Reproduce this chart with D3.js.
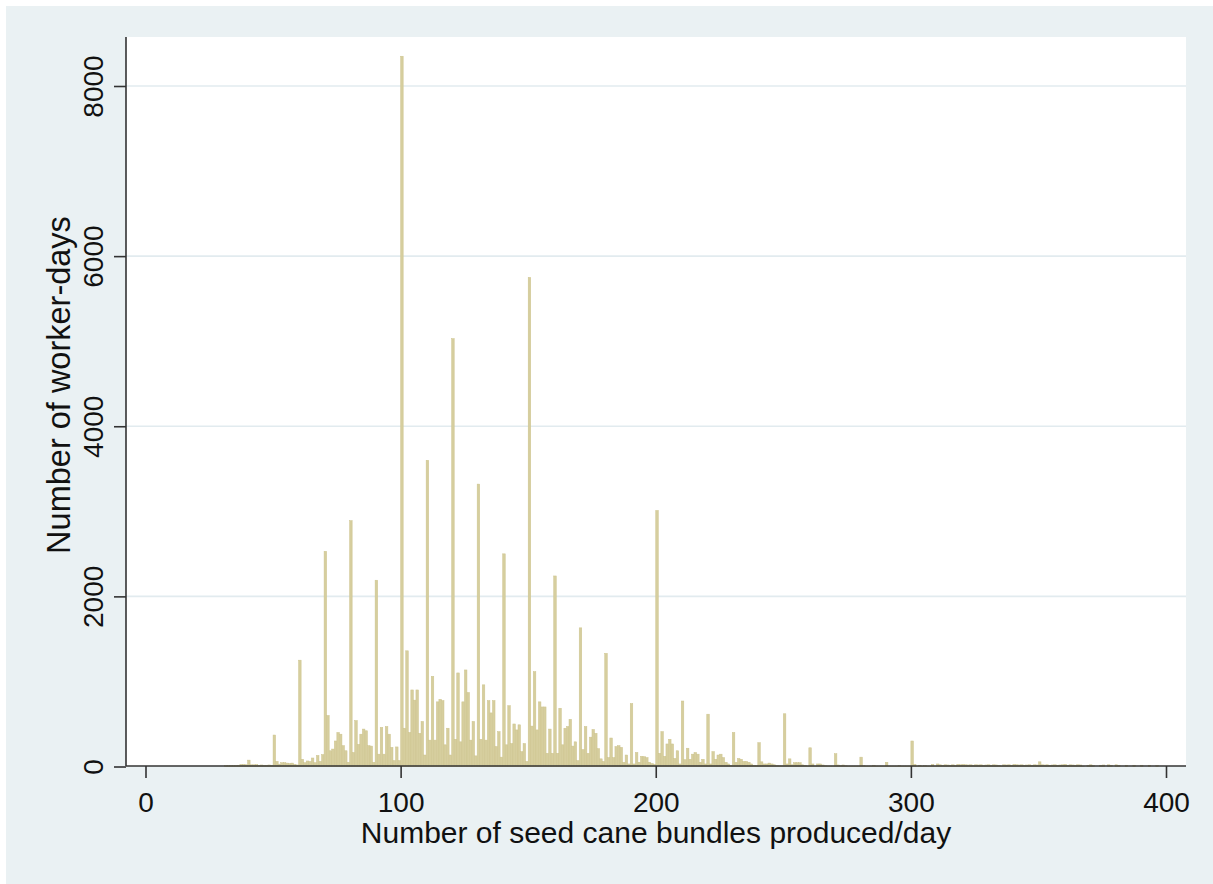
<!DOCTYPE html>
<html>
<head>
<meta charset="utf-8">
<script src="https://cdn.jsdelivr.net/npm/d3@7"></script>
<style>
  html, body { margin: 0; padding: 0; background: #ffffff; }
  svg { display: block; }
  text { font-family: "Liberation Sans", Arial, sans-serif; fill: #111; }
</style>
</head>
<body>
<svg id="chart" width="1213" height="884"></svg>
<script>
// Number of worker-days at each daily output (seed cane bundles), from 30 to 400
const firstBundle = 30;
const workerDays = [
  // 30-39
  0, 10, 10, 12, 10, 12, 15, 25, 25, 20,
  // 40-49
  75, 20, 20, 22, 15, 18, 15, 15, 18, 15,
  // 50-59
  370, 60, 28, 45, 45, 40, 35, 40, 25, 18,
  // 60-69
  1250, 85, 45, 65, 60, 100, 45, 130, 60, 140,
  // 70-79
  2530, 600, 185, 205, 300, 400, 380, 245, 185, 50,
  // 80-89
  2890, 165, 540, 260, 380, 440, 420, 245, 240, 50,
  // 90-99
  2190, 145, 460, 145, 470, 380, 225, 70, 230, 70,
  // 100-109
  8350, 450, 1360, 400, 900, 780, 900, 390, 530, 135,
  // 110-119
  3600, 310, 1060, 310, 760, 790, 775, 255, 450, 135,
  // 120-129
  5030, 320, 1100, 290, 760, 1135, 870, 310, 530, 125,
  // 130-139
  3320, 320, 960, 310, 775, 630, 775, 235, 410, 110,
  // 140-149
  2500, 255, 715, 270, 500, 430, 490, 175, 270, 60,
  // 150-159
  5750, 475, 1115, 430, 760, 700, 700, 155, 440, 155,
  // 160-169
  2240, 155, 685, 255, 450, 470, 555, 240, 290, 70,
  // 170-179
  1630, 200, 470, 155, 345, 435, 390, 210, 90, 60,
  // 180-189
  1330, 105, 335, 105, 235, 245, 225, 50, 135, 30,
  // 190-199
  740, 30, 165, 50, 120, 115, 105, 50, 35, 25,
  // 200-209
  3010, 155, 410, 120, 265, 320, 265, 95, 185, 30,
  // 210-219
  770, 80, 215, 85, 145, 165, 145, 50, 85, 30,
  // 220-229
  615, 30, 175, 85, 135, 145, 105, 50, 30, 15,
  // 230-239
  400, 50, 95, 85, 60, 60, 50, 30, 15, 10,
  // 240-249
  280, 55, 30, 30, 40, 30, 20, 12, 8, 8,
  // 250-259
  620, 30, 90, 20, 45, 45, 45, 20, 15, 5,
  // 260-269
  220, 30, 5, 30, 30, 18, 8, 6, 5, 5,
  // 270-279
  150, 18, 10, 18, 8, 5, 5, 5, 5, 5,
  // 280-289
  110, 10, 5, 5, 5, 15, 5, 5, 5, 5,
  // 290-299
  50, 5, 5, 5, 5, 10, 5, 5, 5, 5,
  // 300-309
  300, 25, 5, 15, 5, 10, 5, 5, 25, 5,
  // 310-319
  30, 20, 15, 20, 18, 15, 20, 10, 25, 20,
  // 320-329
  25, 20, 18, 20, 15, 20, 18, 20, 15, 18,
  // 330-339
  20, 15, 20, 18, 15, 5, 20, 18, 20, 15,
  // 340-349
  25, 20, 18, 20, 15, 18, 20, 15, 20, 18,
  // 350-359
  55, 20, 18, 20, 15, 18, 20, 15, 18, 20,
  // 360-369
  25, 15, 20, 18, 15, 20, 18, 5, 0, 15,
  // 370-379
  20, 10, 0, 0, 15, 18, 0, 20, 15, 0,
  // 380-389
  20, 15, 0, 0, 15, 0, 0, 15, 0, 0,
  // 390-399
  15, 0, 0, 15, 0, 0, 10, 0, 0, 0
];
const xTicks = [0, 100, 200, 300, 400];
const yTicks = [0, 2000, 4000, 6000, 8000];
const xTitle = "Number of seed cane bundles produced/day";
const yTitle = "Number of worker-days";

const bins = workerDays.map((n, i) => ({ bundles: firstBundle + i, count: n }));

const svg = d3.select("#chart");

// graph region and plot region
svg.append("rect").attr("x", 6).attr("y", 6).attr("width", 1207).attr("height", 878)
  .attr("fill", "#eaf1f3");
const plot = { left: 126, right: 1186, top: 37, bottom: 766 };
svg.append("rect").attr("x", plot.left).attr("y", plot.top)
  .attr("width", plot.right - plot.left).attr("height", plot.bottom - plot.top)
  .attr("fill", "#ffffff");

const x = d3.scaleLinear().domain([0, 400]).range([145.5, 1166]);
const y = d3.scaleLinear().domain([0, 8000]).range([766.5, 86]);

// horizontal gridlines
svg.append("g").selectAll("line").data(yTicks.filter(t => t > 0)).join("line")
  .attr("x1", plot.left).attr("x2", plot.right)
  .attr("y1", d => y(d)).attr("y2", d => y(d))
  .attr("stroke", "#e2ebef").attr("stroke-width", 1.6);

// histogram bars, one per integer bundle count
svg.append("g").selectAll("rect").data(bins.filter(d => d.count > 0)).join("rect")
  .attr("x", d => x(d.bundles))
  .attr("width", d => x(d.bundles + 1) - x(d.bundles))
  .attr("y", d => y(d.count))
  .attr("height", d => y(0) - y(d.count))
  .attr("fill", "#d6ce9e")
  .attr("stroke", "#cdc48e")
  .attr("stroke-width", 0.5);

// x axis
const xAxis = svg.append("g").attr("transform", `translate(0,${plot.bottom})`)
  .call(d3.axisBottom(x).tickValues(xTicks).tickSize(12).tickPadding(6).tickFormat(d3.format("d")));
xAxis.select(".domain").attr("d", `M${plot.left},0H${plot.right}`)
  .attr("stroke", "#333").attr("stroke-width", 1.6);
xAxis.selectAll(".tick line").attr("stroke", "#333").attr("stroke-width", 1.6);
xAxis.selectAll(".tick text")
  .attr("y", 46).attr("dy", 0)
  .style("font-family", '"Liberation Sans", Arial, sans-serif')
  .style("font-size", "28px").attr("fill", "#111");

// y axis with rotated tick labels
const yAxis = svg.append("g").attr("transform", `translate(${plot.left},0)`)
  .call(d3.axisLeft(y).tickValues(yTicks).tickSize(12).tickFormat(d3.format("d")));
yAxis.select(".domain").attr("d", `M0,${plot.top}V${plot.bottom}`)
  .attr("stroke", "#333").attr("stroke-width", 1.6);
yAxis.selectAll(".tick line").attr("stroke", "#333").attr("stroke-width", 1.6);
yAxis.selectAll(".tick text")
  .attr("x", null).attr("dy", 0)
  .attr("text-anchor", "middle")
  .attr("transform", "translate(-23,0) rotate(-90)")
  .style("font-family", '"Liberation Sans", Arial, sans-serif')
  .style("font-size", "28px").attr("fill", "#111");

// axis titles
svg.append("text")
  .attr("x", (plot.left + plot.right) / 2).attr("y", 843)
  .attr("text-anchor", "middle").style("font-size", "30px")
  .text(xTitle);
svg.append("text")
  .attr("transform", "translate(70,385) rotate(-90)")
  .attr("text-anchor", "middle").style("font-size", "32.5px")
  .text(yTitle);
</script>
</body>
</html>
